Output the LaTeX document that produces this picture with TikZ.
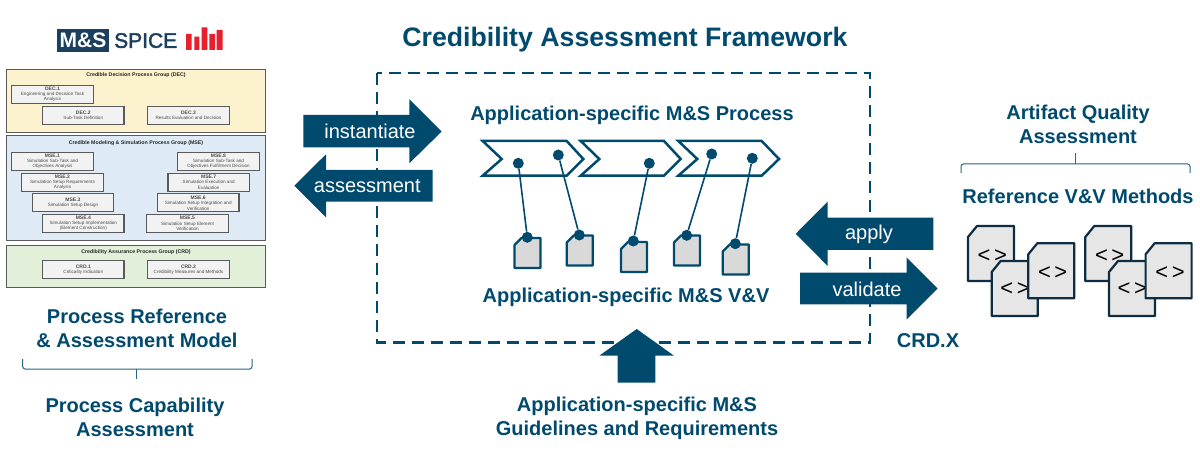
\documentclass[tikz,border=0pt]{standalone}
\usepackage{fontspec}
\setmainfont{Liberation Sans}
\font\logofnt="Liberation Sans:embolden=2" at 21pt
\definecolor{navy}{HTML}{004A6E}
\definecolor{logonavy}{HTML}{1C3F5E}
\definecolor{logored}{HTML}{E8202E}
\definecolor{decfill}{HTML}{FDF2CE}
\definecolor{msefill}{HTML}{DEEBF6}
\definecolor{crdfill}{HTML}{E3F0D9}
\definecolor{boxfill}{HTML}{F2F2F2}
\definecolor{boxline}{HTML}{5A5A5A}
\definecolor{docfill}{HTML}{D9D9D9}
\definecolor{codefill}{HTML}{E6E6E6}
\definecolor{codeline}{HTML}{0F2D42}
\tikzset{
  x=1pt,y=-1pt,
  heading/.style={text=navy,font=\bfseries\fontsize{20}{24}\selectfont,align=center,inner sep=0pt},
  arrowlabel/.style={text=white,font=\fontsize{20}{24}\selectfont,inner sep=0pt},
  bigarrow/.style={fill=navy,draw=none},
  panel/.style={draw=boxline,line width=1pt,inner sep=0pt},
  paneltitle/.style={font=\bfseries\fontsize{5.25}{6}\selectfont,text=black!85,inner sep=0pt},
  procbox/.style={draw=boxline,fill=boxfill,line width=1.2pt,inner sep=0pt,minimum width=81.5pt,minimum height=18pt,align=center,font=\fontsize{4.6}{5.4}\selectfont,text=black!70},
  chevron/.style={draw=navy,line width=2.5pt,miter limit=4},
  dotn/.style={circle,fill=navy,inner sep=0pt,minimum size=11pt},
  tie/.style={draw=navy,line width=1.6pt},
  filedoc/.style={draw=navy,fill=docfill,line width=2.2pt,line join=round},
  codedoc/.style={draw=codeline,fill=codefill,line width=2.2pt,line join=round},
  codetext/.style={font=\fontsize{22}{26}\selectfont,text=black,inner sep=0pt},
  bracket/.style={draw=navy!85,line width=1pt,rounded corners=2.5pt}
}
\newcommand{\smalldoc}[2]{% x, y of top-left
  \draw[filedoc] (#1,#2+8) -- (#1+7,#2+1) -- (#1+26,#2+1) -- (#1+26,#2+31) -- (#1,#2+31) -- cycle;}
\newcommand{\codeshape}[2]{% x, y of top-left
  \draw[codedoc] (#1,#2+11) -- (#1+9,#2) -- (#1+46,#2) -- (#1+46,#2+55) -- (#1,#2+55) -- cycle;}
\newcommand{\pbox}[5]{% name,cx,cy,id,lines
  \node[procbox] (#1) at (#2,#3) {{\bfseries\fontsize{5}{5.4}\selectfont #4}\\#5};}
\newcommand{\codemark}{<\hspace{3.5pt}>}
\begin{document}
\begin{tikzpicture}
\useasboundingbox (0,0) rectangle (1200,465);
\fill[white] (0,0) rectangle (1200,465);

% logo
\node[fill=logonavy,text=white,font=\bfseries\fontsize{21}{24}\selectfont,minimum width=52.5pt,minimum height=22.5pt,inner sep=0pt] (logobox) at (83,40.6) {M\&S};
\node[text=logonavy,font=\logofnt,anchor=west,inner sep=0pt] (logotext) at (114,40.6) {SPICE};
\fill[logored] (186,34) rectangle (191.7,50) (194.3,36.7) rectangle (199.3,50) (201.7,27.3) rectangle (207.3,50) (209.3,34) rectangle (215,50) (216.7,30) rectangle (222.7,50);

% process panels
\node[panel,fill=decfill,minimum width=259.7pt,minimum height=62.3pt] (decpanel) at (135.85,101.15) {};
\node[paneltitle] (dectitle) at (136,75.6) {Credible Decision Process Group (DEC)};
\node[panel,fill=msefill,minimum width=259.7pt,minimum height=105pt] (msepanel) at (135.85,188.5) {};
\node[paneltitle] (msetitle) at (136,143) {Credible Modeling \& Simulation Process Group (MSE)};
\node[panel,fill=crdfill,minimum width=259.7pt,minimum height=41.6pt] (crdpanel) at (135.85,266.5) {};
\node[paneltitle] (crdtitle) at (136,252) {Credibility Assurance Process Group (CRD)};

\pbox{dec1}{52.5}{94.2}{DEC.1}{Engineering and Decision Task\\Analysis}
\pbox{dec2}{83.3}{115.2}{DEC.2}{Sub-Task Definition}
\pbox{dec3}{188.5}{115.2}{DEC.3}{Results Evaluation and Decision}
\pbox{mse1}{52.5}{161.2}{MSE.1}{Simulation Sub-Task and\\Objectives Analysis}
\pbox{mse2}{62.5}{182.3}{MSE.2}{Simulation Setup Requirements\\Analysis}
\pbox{mse3}{73}{202.9}{MSE.3}{Simulation Setup Design}
\pbox{mse4}{83.3}{223.3}{MSE.4}{Simulation Setup Implementation\\(Element Construction)}
\pbox{mse8}{218.5}{161.2}{MSE.8}{Simulation Sub-Task and\\Objectives Fulfillment Decision}
\pbox{mse7}{208.7}{182.2}{MSE.7}{Simulation Execution and\\Evaluation}
\pbox{mse6}{198.2}{202.9}{MSE.6}{Simulation Setup Integration and\\Verification}
\pbox{mse5}{187.5}{223.3}{MSE.5}{Simulation Setup Element\\Verification}
\pbox{crd1}{83.3}{269.7}{CRD.1}{Criticality Indication}
\pbox{crd2}{188.5}{269.7}{CRD.2}{Credibility Measures and Methods}

% left captions
\node[heading] (prm) at (137,328) {Process Reference\\\& Assessment Model};
\draw[bracket] (22.7,359) -- (22.7,369) -- (136.7,369) -- (252,369) -- (252,359);
\draw[draw=navy!85,line width=1pt] (136.7,369) -- (136.7,379);
\node[heading] (pca) at (135,417) {Process Capability\\Assessment};

% title
\node[heading,font=\bfseries\fontsize{26.7}{31}\selectfont] (title) at (625,39.5) {Credibility Assessment Framework};

% dashed framework
\draw[navy,line width=2.8pt,dash pattern=on 12pt off 7pt] (377,73) rectangle (870,342.5);

% arrows
\fill[bigarrow] (303.3,115) -- (409.3,115) -- (409.3,99.3) -- (441.7,131.5) -- (409.3,163.3) -- (409.3,147.3) -- (303.3,147.3) -- cycle;
\node[arrowlabel] (inst) at (370,131) {instantiate};
\fill[bigarrow] (432.7,170) -- (326,170) -- (326,154.3) -- (294.3,185.7) -- (326,217.3) -- (326,201.7) -- (432.7,201.7) -- cycle;
\node[arrowlabel] (assess) at (367.3,186) {assessment};
\fill[bigarrow] (933.3,217.7) -- (827.7,217.7) -- (827.7,201.7) -- (795.7,233.8) -- (827.7,266) -- (827.7,250) -- (933.3,250) -- cycle;
\node[arrowlabel] (apply) at (869,234) {apply};
\fill[bigarrow] (800,272.7) -- (906.7,272.7) -- (906.7,257.7) -- (937.7,288.5) -- (906.7,319.3) -- (906.7,304.3) -- (800,304.3) -- cycle;
\node[arrowlabel] (validate) at (867,289) {validate};
\fill[bigarrow] (617.7,382.7) -- (617.7,355.7) -- (599.3,355.7) -- (636.7,329) -- (674,355.7) -- (655.3,355.7) -- (655.3,382.7) -- cycle;

% process section
\node[heading] (asproc) at (632,115) {Application-specific M\&S Process};
\draw[chevron] (482.7,141) -- (566.7,141) -- (583.3,159) -- (566.7,175.7) -- (482.7,175.7) -- (501.7,159) -- cycle;
\draw[chevron] (580.7,141) -- (664,141) -- (680.7,159) -- (664,175.7) -- (580.7,175.7) -- (599.3,159) -- cycle;
\draw[chevron] (678.3,141) -- (761.7,141) -- (779,159) -- (761.7,175.7) -- (678.3,175.7) -- (697.3,159) -- cycle;

\smalldoc{514.5}{237}
\smalldoc{566.7}{234.5}
\smalldoc{621}{241}
\smalldoc{674}{234.5}
\smalldoc{722.7}{243.5}

\node[dotn] (p1) at (518.3,163.3) {};
\node[dotn] (p2) at (558.3,155) {};
\node[dotn] (p3) at (649.3,163.3) {};
\node[dotn] (p4) at (711.7,154) {};
\node[dotn] (p5) at (752.3,158.3) {};
\node[dotn] (q1) at (527.3,237.3) {};
\node[dotn] (q2) at (579.3,235) {};
\node[dotn] (q3) at (633.3,241) {};
\node[dotn] (q4) at (686.7,235.3) {};
\node[dotn] (q5) at (735.3,243.7) {};
\draw[tie] (p1) -- (q1);
\draw[tie] (p2) -- (q2);
\draw[tie] (p3) -- (q3);
\draw[tie] (p4) -- (q4);
\draw[tie] (p5) -- (q5);

\node[heading] (asvv) at (626,297) {Application-specific M\&S V\&V};
\node[heading] (guide) at (637,418) {Application-specific M\&S\\Guidelines and Requirements};
\node[heading] (crdx) at (928,341) {CRD.X};

% right column
\node[heading] (aqa) at (1078,124) {Artifact Quality\\Assessment};
\draw[bracket] (961,173) -- (961,164) -- (1075.7,164) -- (1190,164) -- (1190,173);
\draw[draw=navy!85,line width=1pt] (1075.7,164) -- (1075.7,153);
\node[heading] (refvv) at (1078,196.5) {Reference V\&V Methods};

\codeshape{968}{226}
\node[codetext] (a1) at (992.3,255.7) {\codemark};
\codeshape{991.7}{261}
\node[codetext] (a2) at (1015,289.3) {\codemark};
\codeshape{1028.3}{243.3}
\node[codetext] (a3) at (1052.7,272.7) {\codemark};
\codeshape{1085.3}{226}
\node[codetext] (b1) at (1109.6,255.7) {\codemark};
\codeshape{1109}{261}
\node[codetext] (b2) at (1132.3,289.3) {\codemark};
\codeshape{1145.6}{243.3}
\node[codetext] (b3) at (1170,272.7) {\codemark};
\end{tikzpicture}
\end{document}
